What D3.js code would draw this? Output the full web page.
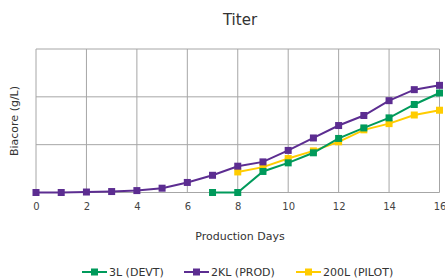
<!DOCTYPE html>
<html><head><meta charset="utf-8">
<script src="https://cdn.jsdelivr.net/npm/d3@7"></script>
<style>body{margin:0;background:#fff;overflow:hidden}svg{display:block}</style>
</head><body>
<svg id="c" width="445" height="278"></svg>
<script>
const daysProd = [0,1,2,3,4,5,6,7,8,9,10,11,12,13,14,15,16];
const valsProd = [0,0,0.01,0.02,0.04,0.09,0.21,0.36,0.55,0.64,0.88,1.14,1.40,1.61,1.92,2.15,2.24];
const daysDevt = [7,8,9,10,11,12,13,14,15,16];
const valsDevt = [0,0,0.44,0.62,0.83,1.13,1.35,1.56,1.84,2.08];
const daysPilot = [8,9,10,11,12,13,14,15,16];
const valsPilot = [0.43,0.53,0.71,0.87,1.06,1.31,1.44,1.62,1.72];
const xTicks = [0,2,4,6,8,10,12,14,16];
const yTicks = [0,1,2,3];
const seriesNames = ["3L (DEVT)","2KL (PROD)","200L (PILOT)"];
const seriesColors = ["#009a5b","#5c2d91","#ffcc00"];

const svg = d3.select("#c");
const font = "DejaVu Sans, Verdana, sans-serif";
const x = d3.scaleLinear().domain([0,16]).range([36,439.5]);
const y = d3.scaleLinear().domain([0,3]).range([192.5,49]);

// grid
const g = svg.append("g");
g.selectAll(".vx").data(xTicks).join("line")
  .attr("x1",d=>x(d)).attr("x2",d=>x(d)).attr("y1",y(3)).attr("y2",y(0))
  .attr("stroke","#a6a6a6").attr("stroke-width",1);
g.selectAll(".hy").data(yTicks).join("line")
  .attr("x1",x(0)).attr("x2",x(16)).attr("y1",d=>y(d)).attr("y2",d=>y(d))
  .attr("stroke","#a6a6a6").attr("stroke-width",1);

// x axis labels
const xa = svg.append("g").attr("transform",`translate(0,${y(0)})`)
  .call(d3.axisBottom(x).tickValues(xTicks).tickSize(0).tickPadding(10));
xa.select(".domain").remove();
xa.selectAll("text").attr("font-family",font).attr("font-size",10).attr("fill","#444");

svg.append("text").attr("x",240).attr("y",25).attr("text-anchor","middle")
  .attr("font-family",font).attr("font-size",15).attr("fill","#333").text("Titer");
svg.append("text").attr("x",240).attr("y",240).attr("text-anchor","middle")
  .attr("font-family",font).attr("font-size",11).attr("fill","#333").text("Production Days");
svg.append("text").attr("transform","translate(18,121) rotate(-90)").attr("text-anchor","middle")
  .attr("font-family",font).attr("font-size",11).attr("fill","#333").text("Biacore (g/L)");

const series = [
  {d:daysDevt, v:valsDevt, c:seriesColors[0]},
  {d:daysProd, v:valsProd, c:seriesColors[1]},
  {d:daysPilot, v:valsPilot, c:seriesColors[2]}
];
const line = d3.line().x(p=>x(p[0])).y(p=>y(p[1]));
const order = [2,0,1];
order.forEach(i=>{
  const s = series[i];
  const pts = s.d.map((d,j)=>[d,s.v[j]]);
  svg.append("path").attr("d",line(pts)).attr("fill","none").attr("stroke",s.c).attr("stroke-width",2);
  svg.selectAll(null).data(pts).join("rect")
    .attr("x",p=>x(p[0])-3.5).attr("y",p=>y(p[1])-3.5).attr("width",7).attr("height",7).attr("fill",s.c);
});

// legend
const legX = [82,184,296];
seriesNames.forEach((n,i)=>{
  const lg = svg.append("g").attr("transform",`translate(${legX[i]},272)`);
  lg.append("line").attr("x1",0).attr("x2",25).attr("y1",0).attr("y2",0).attr("stroke",seriesColors[i]).attr("stroke-width",2);
  lg.append("rect").attr("x",9).attr("y",-3.5).attr("width",7).attr("height",7).attr("fill",seriesColors[i]);
  lg.append("text").attr("x",27).attr("y",4).attr("font-family",font).attr("font-size",11).attr("fill","#333").text(n);
});
</script>
</body></html>
